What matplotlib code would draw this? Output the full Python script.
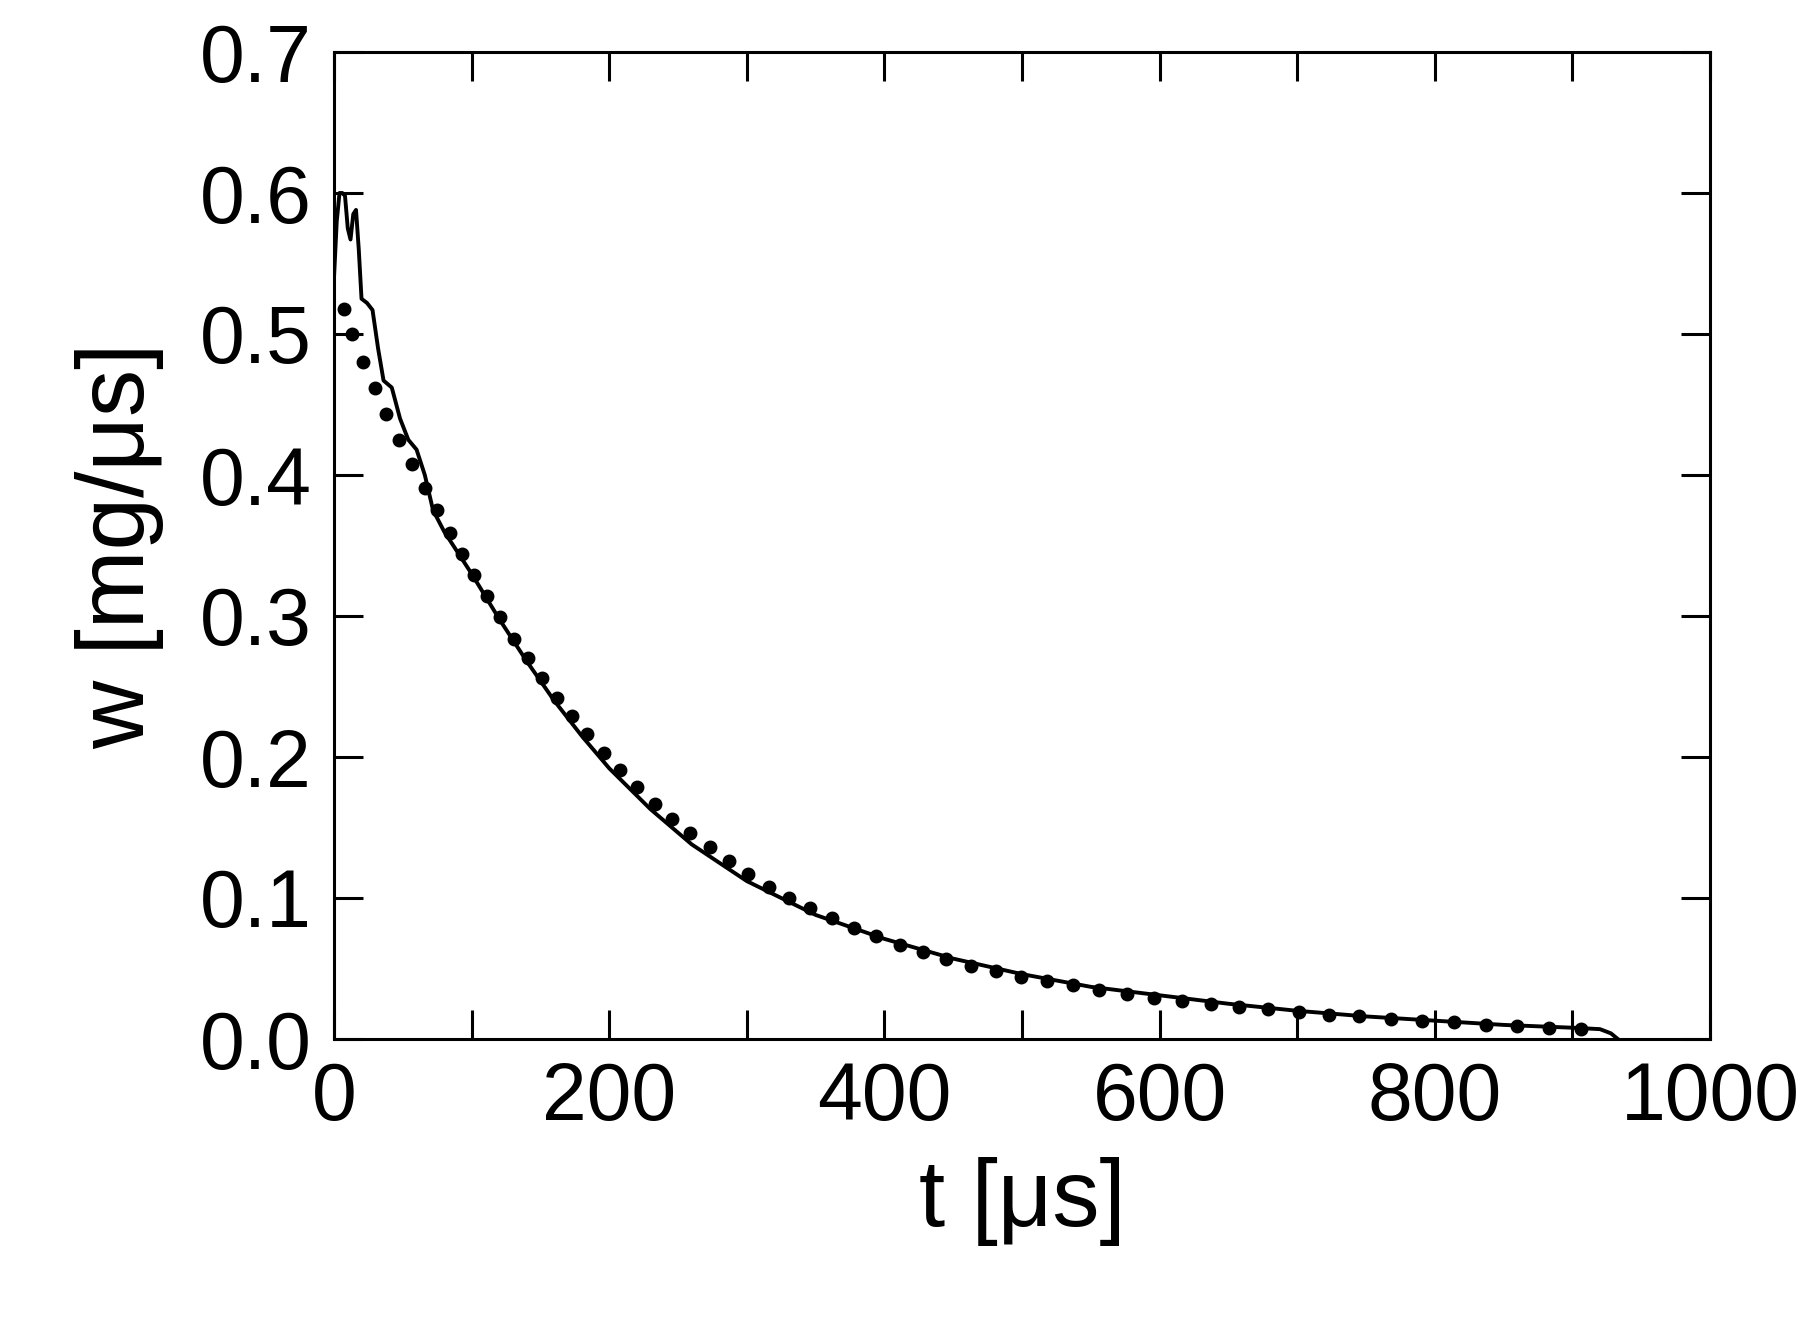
import matplotlib
matplotlib.use("Agg")
import matplotlib.pyplot as plt

plt.rcParams['font.family'] = ['Liberation Sans', 'DejaVu Sans']

# solid curve (measured)
t_line = [0, 2, 4, 6, 8, 10, 12, 14, 16, 18, 20, 24, 28, 32, 36, 42, 48, 54, 60, 66, 72, 80, 90,
          100, 120, 140, 160, 180, 200, 230, 260, 300, 350, 400, 450, 500, 550, 600, 650,
          700, 750, 800, 850, 900, 920, 928, 933]
w_line = [0.54, 0.58, 0.60, 0.60, 0.598, 0.575, 0.567, 0.585, 0.588, 0.56, 0.525, 0.522, 0.517,
          0.49, 0.467, 0.462, 0.44, 0.425, 0.418, 0.40, 0.375, 0.36, 0.345,
          0.33, 0.298, 0.268, 0.24, 0.215, 0.192, 0.163, 0.138, 0.112, 0.088, 0.071, 0.057,
          0.046, 0.037, 0.031, 0.025, 0.020, 0.016, 0.013, 0.010, 0.008, 0.007, 0.004, 0.0]

# model points (dots)
t_dot = [-4, 7, 13, 21, 30, 38, 47, 57, 66, 75, 84, 93, 102, 111, 121, 131, 141, 151, 162,
         173, 184, 196, 208, 220, 233, 246, 259, 273, 287, 301, 316, 331, 346, 362, 378,
         394, 411, 428, 445, 463, 481, 499, 518, 537, 556, 576, 596, 616, 637, 658, 679,
         701, 723, 745, 768, 791, 814, 837, 860, 883, 906]
w_dot = [0.538, 0.518, 0.50, 0.48, 0.462, 0.443, 0.425, 0.408, 0.391, 0.375, 0.359, 0.344,
         0.329, 0.314, 0.299, 0.284, 0.270, 0.256, 0.242, 0.229, 0.216, 0.203, 0.191, 0.179,
         0.167, 0.156, 0.146, 0.136, 0.126, 0.117, 0.108, 0.100, 0.093, 0.086, 0.079, 0.073,
         0.067, 0.062, 0.057, 0.052, 0.048, 0.044, 0.041, 0.038, 0.035, 0.032, 0.029, 0.027,
         0.025, 0.023, 0.021, 0.019, 0.017, 0.016, 0.014, 0.013, 0.012, 0.010, 0.009, 0.008,
         0.007]

fig = plt.figure(figsize=(18.15, 13.17), dpi=100)
ax = fig.add_axes([334/1815, 1 - 1039/1317, (1710-334)/1815, (1039-52)/1317])

ax.plot(t_line, w_line, color='black', lw=2.8)
ax.plot(t_dot, w_dot, 'o', color='black', ms=9)

ax.set_xlim(0, 1000)
ax.set_ylim(0, 0.7)
ax.set_xticks(range(0, 1001, 200))
ax.set_xticks(range(0, 1001, 100), minor=True)
ax.set_yticks([i / 10 for i in range(8)])
ax.set_yticklabels(['%.1f' % (i / 10) for i in range(8)])
ax.tick_params(which='both', direction='in', top=True, right=True, width=2.2, length=21,
               labelsize=58, pad=16)
ax.tick_params(which='minor', length=21)
for s in ax.spines.values():
    s.set_linewidth(2.2)

ax.set_xlabel('t [\u03bcs]', fontsize=68, labelpad=14)
ax.set_ylabel('w [mg/\u03bcs]', fontsize=68, labelpad=26)

fig.savefig('out.png', dpi=100, facecolor='white')
